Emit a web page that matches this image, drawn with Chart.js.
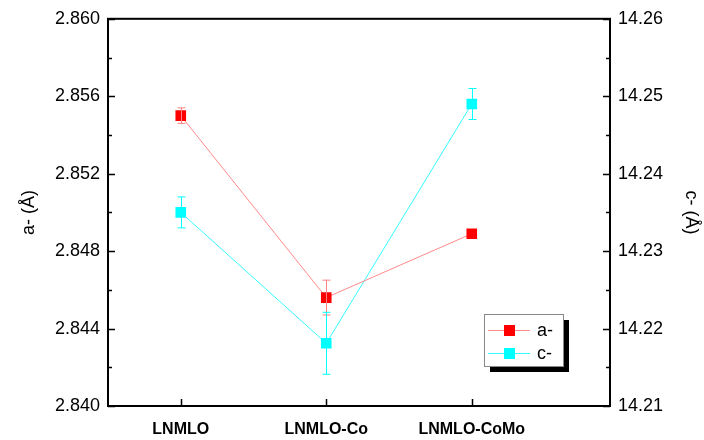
<!DOCTYPE html>
<html>
<head>
<meta charset="utf-8">
<script src="https://cdn.jsdelivr.net/npm/chart.js@4.4.1/dist/chart.umd.min.js"></script>
<style>
  html, body { margin: 0; padding: 0; background: #fff; }
  #wrap { width: 704px; height: 440px; }
</style>
</head>
<body>
<div id="wrap"><canvas id="chart"></canvas></div>
<script>
// samples on the x axis
const categories = ["LNMLO", "LNMLO-Co", "LNMLO-CoMo"];

// lattice parameter a (left axis) and its error
const aValues = [2.8550, 2.8456, 2.8489];
const aErrors = [0.0004, 0.0009, 0];

// lattice parameter c (right axis) and its error
const cValues = [14.2350, 14.2181, 14.2490];
const cErrors = [0.0020, 0.0040, 0.0020];

// axis ranges / ticks
const aTicks = [2.840, 2.844, 2.848, 2.852, 2.856, 2.860];
const cTicks = [14.21, 14.22, 14.23, 14.24, 14.25, 14.26];

const FONT = "'Liberation Sans', Arial, sans-serif";

function points(values) {
    return values.map((v, i) => ({ x: i + 1, y: v }));
}

// error bars, inward ticks, frame and boxed legend
const decorPlugin = {
    id: "decor",
    afterDatasetsDraw(chart) {
        const ctx = chart.ctx;
        const xs = chart.scales.x;
        // error bars
        chart.data.datasets.forEach((ds, di) => {
            const ys = chart.scales[ds.yAxisID];
            ctx.save();
            ctx.strokeStyle = ds.errColor;
            ctx.lineWidth = 1;
            ds.errors.forEach((e, i) => {
                if (!e) return;
                const v = ds.data[i].y;
                const px = Math.round(xs.getPixelForValue(ds.data[i].x)) + 0.5;
                const top = ys.getPixelForValue(v + e);
                const bot = ys.getPixelForValue(v - e);
                ctx.beginPath();
                ctx.moveTo(px, top); ctx.lineTo(px, bot);
                ctx.moveTo(px - 4, top); ctx.lineTo(px + 4, top);
                ctx.moveTo(px - 4, bot); ctx.lineTo(px + 4, bot);
                ctx.stroke();
            });
            ctx.restore();
        });
    },
    afterDraw(chart) {
        const ctx = chart.ctx;
        const area = chart.chartArea;
        const xs = chart.scales.x, ya = chart.scales.ya, yc = chart.scales.yc;
        ctx.save();
        ctx.strokeStyle = "#000";
        ctx.lineWidth = 1.5;
        ctx.beginPath();
        // left axis ticks (major + minor)
        for (let k = 0; k <= 10; k++) {
            const v = aTicks[0] + k * 0.002;
            const y = Math.round(ya.getPixelForValue(v)) + 0.5;
            const len = k % 2 === 0 ? 7 : 4;
            ctx.moveTo(area.left, y); ctx.lineTo(area.left + len, y);
        }
        // right axis ticks
        for (let k = 0; k <= 10; k++) {
            const v = cTicks[0] + k * 0.005;
            const y = Math.round(yc.getPixelForValue(v)) + 0.5;
            const len = k % 2 === 0 ? 7 : 4;
            ctx.moveTo(area.right, y); ctx.lineTo(area.right - len, y);
        }
        // bottom ticks
        categories.forEach((c, i) => {
            const x = Math.round(xs.getPixelForValue(i + 1)) + 0.5;
            ctx.moveTo(x, area.bottom); ctx.lineTo(x, area.bottom - 7);
        });
        ctx.stroke();
        // frame
        ctx.lineWidth = 2;
        ctx.strokeRect(area.left, area.top, area.right - area.left, area.bottom - area.top);

        // legend box with drop shadow
        const lx = 484, ly = 314, lw = 79, lh = 52;
        ctx.fillStyle = "#000";
        ctx.fillRect(lx + 6, ly + 6, lw, lh);
        ctx.fillStyle = "#fff";
        ctx.fillRect(lx, ly, lw, lh);
        ctx.strokeStyle = "#888";
        ctx.lineWidth = 1;
        ctx.strokeRect(lx + 0.5, ly + 0.5, lw, lh);
        chart.data.datasets.forEach((ds, i) => {
            const cy = ly + 16 + i * 23;
            ctx.strokeStyle = ds.borderColor;
            ctx.lineWidth = 1;
            ctx.beginPath();
            ctx.moveTo(lx + 4, cy + 0.5); ctx.lineTo(lx + 46, cy + 0.5);
            ctx.stroke();
            ctx.fillStyle = ds.pointBackgroundColor;
            ctx.fillRect(lx + 20, cy - 5, 11, 11);
            ctx.fillStyle = "#000";
            ctx.font = "18px " + FONT;
            ctx.textBaseline = "middle";
            ctx.textAlign = "left";
            ctx.fillText(ds.label, lx + 53, cy + 1);
        });
        ctx.restore();
    }
};

new Chart(document.getElementById("chart"), {
    type: "line",
    data: {
        datasets: [
            {
                label: "a-",
                data: points(aValues),
                errors: aErrors,
                errColor: "#ff8080",
                yAxisID: "ya",
                borderColor: "#ff8a8a",
                borderWidth: 1,
                pointStyle: "rect",
                pointRadius: 7.5,
                pointBackgroundColor: "#ff0000",
                pointBorderColor: "#ff0000",
                pointBorderWidth: 0
            },
            {
                label: "c-",
                data: points(cValues),
                errors: cErrors,
                errColor: "#00ffff",
                yAxisID: "yc",
                borderColor: "#33ffff",
                borderWidth: 1,
                pointStyle: "rect",
                pointRadius: 7.5,
                pointBackgroundColor: "#00ffff",
                pointBorderColor: "#00ffff",
                pointBorderWidth: 0
            }
        ]
    },
    options: {
        responsive: true,
        maintainAspectRatio: false,
        animation: false,
        events: [],
        layout: { padding: { top: 18, left: 0, right: 0, bottom: 0 } },
        plugins: {
            legend: { display: false },
            tooltip: { enabled: false }
        },
        scales: {
            x: {
                type: "linear",
                min: 0.5,
                max: 3.95,
                afterBuildTicks: s => { s.ticks = categories.map((c, i) => ({ value: i + 1 })); },
                afterFit: s => { s.height = 34; },
                grid: { display: false, drawTicks: false },
                border: { display: false },
                ticks: {
                    callback: v => categories[v - 1],
                    padding: 14,
                    maxRotation: 0,
                    color: "#000",
                    font: { family: FONT, size: 16, weight: "bold" }
                }
            },
            ya: {
                type: "linear",
                position: "left",
                min: 2.840,
                max: 2.860,
                afterBuildTicks: s => { s.ticks = aTicks.map(v => ({ value: v })); },
                afterFit: s => { s.width = 108; },
                grid: { display: false, drawTicks: false },
                border: { display: false },
                ticks: {
                    callback: v => v.toFixed(3),
                    padding: 8,
                    color: "#000",
                    font: { family: FONT, size: 18 }
                },
                title: {
                    display: true,
                    text: "a- (Å)",
                    color: "#000",
                    padding: { top: 18 },
                    font: { family: FONT, size: 18 }
                }
            },
            yc: {
                type: "linear",
                position: "right",
                min: 14.21,
                max: 14.26,
                afterBuildTicks: s => { s.ticks = cTicks.map(v => ({ value: v })); },
                afterFit: s => { s.width = 94; },
                grid: { display: false, drawTicks: false },
                border: { display: false },
                ticks: {
                    callback: v => v.toFixed(2),
                    padding: 8,
                    color: "#000",
                    font: { family: FONT, size: 18 }
                },
                title: {
                    display: true,
                    text: "c- (Å)",
                    color: "#000",
                    padding: { top: 2 },
                    font: { family: FONT, size: 18 }
                }
            }
        }
    },
    plugins: [decorPlugin]
});
</script>
</body>
</html>
